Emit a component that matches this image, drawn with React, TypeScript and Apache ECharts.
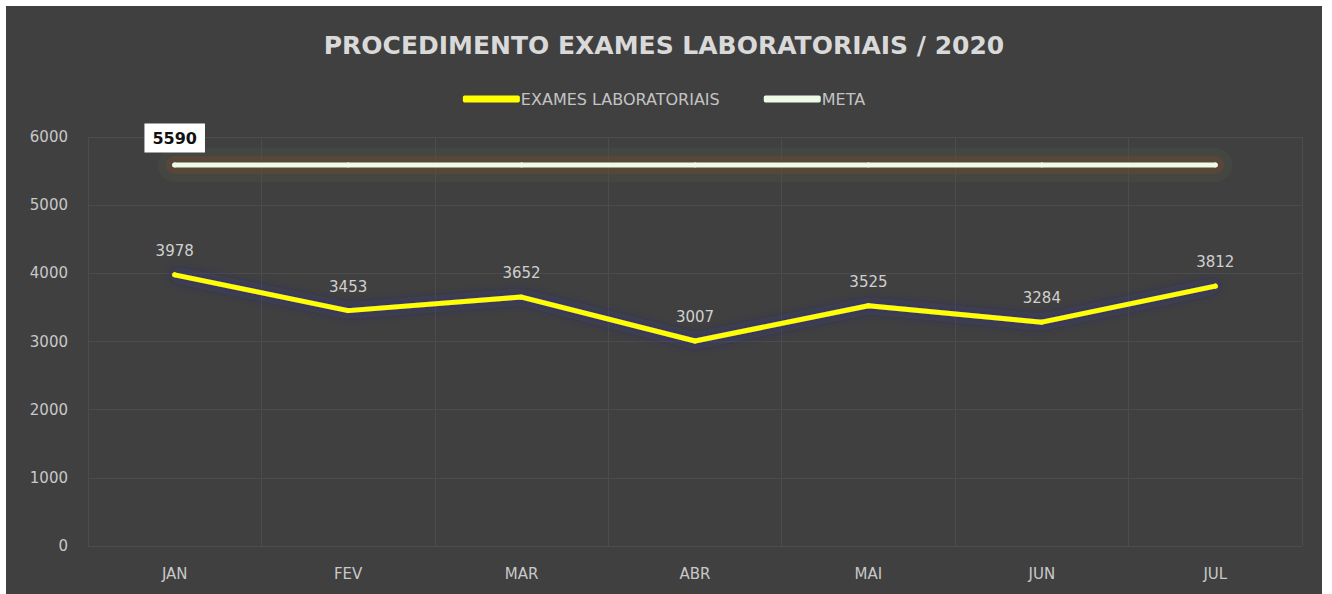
import React, { useEffect, useRef } from "react";
import * as echarts from "echarts";

const months = ["JAN", "FEV", "MAR", "ABR", "MAI", "JUN", "JUL"];
const exames = [3978, 3453, 3652, 3007, 3525, 3284, 3812];
const meta = [5590, 5590, 5590, 5590, 5590, 5590, 5590];
const titleText = "PROCEDIMENTO EXAMES LABORATORIAIS / 2020";

export default function App() {
  const ref = useRef<HTMLDivElement>(null);
  useEffect(() => {
    if (!ref.current) return;
    const chart = echarts.init(ref.current, undefined, { renderer: "svg" });
    const font = "'DejaVu Sans', 'Open Sans', sans-serif";
    const metaData = meta.map((v, i) =>
      i === 0 ? { value: v, label: { show: true } } : { value: v }
    );
    chart.setOption({
      animation: false,
      backgroundColor: "#404040",
      textStyle: { fontFamily: font },
      title: {
        text: titleText,
        left: "center",
        top: 22,
        textStyle: { color: "#d9d9d9", fontSize: 25, fontWeight: "bold", fontFamily: font },
      },
      legend: {
        top: 80,
        left: "center",
        itemWidth: 57,
        itemHeight: 7,
        itemGap: 44,
        icon: "roundRect",
        textStyle: { color: "#c4c4c4", fontSize: 16, fontFamily: font, padding: [0, 0, 0, -4] },
        data: ["EXAMES LABORATORIAIS", "META"],
      },
      grid: { left: 82, right: 20, top: 131, bottom: 48 },
      xAxis: {
        type: "category",
        data: months,
        boundaryGap: true,
        axisLine: { show: false },
        axisTick: { show: false },
        axisLabel: { color: "#c8c8c8", fontSize: 15, margin: 20, fontFamily: font },
        splitLine: { show: true, lineStyle: { color: "#4c4c4c", width: 1 } },
      },
      yAxis: {
        type: "value",
        min: 0,
        max: 6000,
        interval: 1000,
        axisLine: { show: false },
        axisTick: { show: false },
        axisLabel: {
          color: "#c8c8c8",
          fontSize: 15,
          margin: 20,
          fontFamily: font,
          formatter: (v: number) => String(v),
        },
        splitLine: { show: true, lineStyle: { color: "#4c4c4c", width: 1 } },
      },
      series: [
        {
          name: "META_GLOW_OUTER",
          type: "line",
          data: meta,
          symbol: "none",
          silent: true,
          lineStyle: { color: "rgba(80,90,70,0.28)", width: 34, cap: "round" },
          label: { show: false },
          tooltip: { show: false },
        },
        {
          name: "META_GLOW",
          type: "line",
          data: meta,
          symbol: "none",
          silent: true,
          lineStyle: { color: "rgba(130,70,40,0.32)", width: 18, cap: "round" },
          label: { show: false },
          tooltip: { show: false },
        },
        {
          name: "EXAMES LABORATORIAIS",
          type: "line",
          data: exames,
          symbol: "circle",
          symbolSize: 5,
          color: "#ffff00",
          itemStyle: { color: "#ffff00" },
          lineStyle: {
            color: "#ffff00",
            width: 5,
            cap: "round",
            shadowColor: "rgba(40,40,170,0.8)",
            shadowBlur: 12,
          },
          label: {
            show: true,
            position: "top",
            distance: 14,
            color: "#d0d0d0",
            fontSize: 15,
            fontFamily: font,
          },
        },
        {
          name: "META",
          type: "line",
          data: metaData,
          symbol: "circle",
          symbolSize: 5,
          color: "#eefbe6",
          itemStyle: { color: "#eefbe6" },
          lineStyle: { color: "#eefbe6", width: 5, cap: "round" },
          label: {
            show: false,
            position: "top",
            distance: 10,
            color: "#111111",
            fontWeight: "bold",
            fontSize: 16,
            fontFamily: font,
            backgroundColor: "#ffffff",
            padding: [7, 8, 6, 8],
          },
        },
      ],
    });
    return () => chart.dispose();
  }, []);
  return (
    <div style={{ position: "absolute", left: 0, top: 0, width: 1332, height: 594, background: "#ffffff" }}>
      <div
        ref={ref}
        style={{ position: "absolute", left: 6, top: 6, width: 1316, height: 588 }}
      />
    </div>
  );
}
